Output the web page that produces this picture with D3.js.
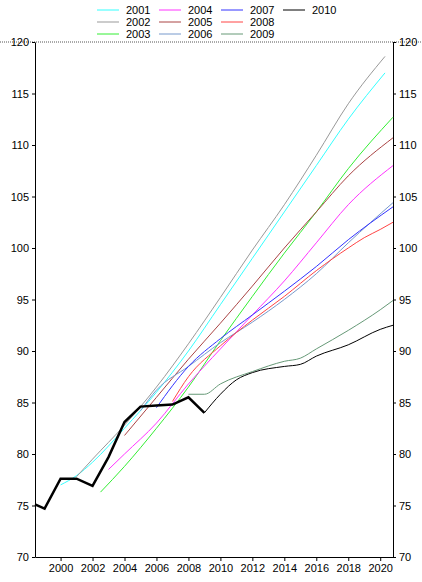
<!DOCTYPE html><html><head><script src="https://cdn.jsdelivr.net/npm/d3@7"></script>
<style>body{margin:0;background:#fff}text{font-family:"Liberation Sans",Arial,sans-serif;font-size:11px}</style></head><body>
<svg id="c" width="422" height="582"></svg>
<script>
const names=["2001","2002","2003","2004","2005","2006","2007","2008","2009","2010"];
const colors=["#33ffff","#999999","#33ee33","#ff33ff","#aa4444","#7799cc","#3333ff","#ff4444","#669977","#000000"];
const s2001=[[2000,77.0],[2001,77.9],[2002,79.2],[2004,82.5],[2006,86],[2008,90],[2010,94.5],[2012,99],[2014,103.5],[2016,108],[2018,112.5],[2020.3,117]];
const s2002=[[2001,77.8],[2002,79.5],[2004,82.8],[2006,86.5],[2008,90.7],[2010,95.2],[2012,99.8],[2014,104.2],[2016,109],[2018,114],[2020.3,118.6]];
const s2003=[[2002.5,76.3],[2004,78.8],[2006,82.5],[2008,86.5],[2010,91],[2012,95.3],[2014,99.5],[2016,103.5],[2018,107.7],[2020.8,112.7]];
const s2004=[[2003,78.5],[2004,80],[2006,83],[2008,86.8],[2010,90.2],[2012,93.5],[2014,96.8],[2016,100.5],[2018,104.2],[2020.8,108]];
const s2005=[[2004,81.8],[2006,85.5],[2008,89.2],[2010,92.7],[2012,96.3],[2014,100],[2016,103.5],[2018,107],[2020.8,110.7]];
const s2006=[[2005,84.2],[2006,86.2],[2008,88.5],[2010,90.8],[2012,92.8],[2014,95],[2016,97.5],[2018,100.5],[2020.8,104.4]];
const s2007=[[2006,84.5],[2008,88.5],[2010,91.2],[2012,93.5],[2014,95.8],[2016,98.2],[2018,100.8],[2020.8,104]];
const s2008=[[2007,85.1],[2008,87.5],[2010,90.5],[2012,93],[2014,95.3],[2016,97.8],[2018,100],[2019,101],[2020,101.8],[2020.8,102.5]];
const s2009=[[2008,85.8],[2009,85.8],[2010,86.8],[2012,88.0],[2014,89.0],[2015,89.3],[2016,90.2],[2018,92.0],[2020,94.0],[2020.8,94.9]];
const s2010=[[2009,84.0],[2010,85.8],[2011,87.2],[2012,87.9],[2014,88.5],[2015,88.7],[2016,89.5],[2018,90.6],[2020,92.1],[2020.8,92.5]];
const history=[[1998.4,75.1],[1999,74.7],[2000,77.6],[2001,77.6],[2002,76.9],[2003,79.7],[2004,83.1],[2005,84.6],[2006,84.7],[2007,84.8],[2008,85.5],[2009,84.0]];
const series=[s2001,s2002,s2003,s2004,s2005,s2006,s2007,s2008,s2009,s2010];
const yTicks=[70,75,80,85,90,95,100,105,110,115,120];
const xTicks=[2000,2002,2004,2006,2008,2010,2012,2014,2016,2018,2020];

const svg=d3.select("#c");
const L=35,R=393,T=42,B=557;
const x=d3.scaleLinear().domain([1998.4,2020.8]).range([L,R]);
const y=d3.scaleLinear().domain([70,120]).range([B,T]);
const line=d3.line().x(d=>x(d[0])).y(d=>y(d[1])).curve(d3.curveMonotoneX);
const hline=d3.line().x(d=>x(d[0])).y(d=>y(d[1]));
svg.append("line").attr("x1",0).attr("x2",422).attr("y1",T).attr("y2",T).attr("stroke","#555").attr("stroke-dasharray","1,1");
svg.append("g").attr("transform",`translate(0,${B})`).call(d3.axisBottom(x).tickValues(xTicks).tickFormat(d3.format("d")).tickSize(4).tickSizeOuter(0));
svg.append("g").attr("transform",`translate(${L},0)`).call(d3.axisLeft(y).tickValues(yTicks).tickSize(3).tickSizeOuter(0));
svg.append("g").attr("transform",`translate(${R},0)`).call(d3.axisRight(y).tickValues(yTicks).tickSize(3).tickSizeOuter(0));
svg.selectAll(".domain").attr("stroke","#000");
svg.selectAll(".tick text").style("font-size","11px").attr("fill","#000");
series.forEach((s,i)=>svg.append("path").attr("d",line(s)).attr("fill","none").attr("stroke",colors[i]).attr("stroke-width",1));
svg.append("path").attr("d",hline(history)).attr("fill","none").attr("stroke","#000").attr("stroke-width",2.5);
const lg=svg.append("g");
names.forEach((n,i)=>{const c=Math.floor(i/3),r=i%3;const gx=97+c*62,gy=10+r*12;
 lg.append("line").attr("x1",gx).attr("x2",gx+22).attr("y1",gy).attr("y2",gy).attr("stroke",colors[i]);
 lg.append("text").attr("x",gx+29).attr("y",gy+4).text(n);});
</script></body></html>
